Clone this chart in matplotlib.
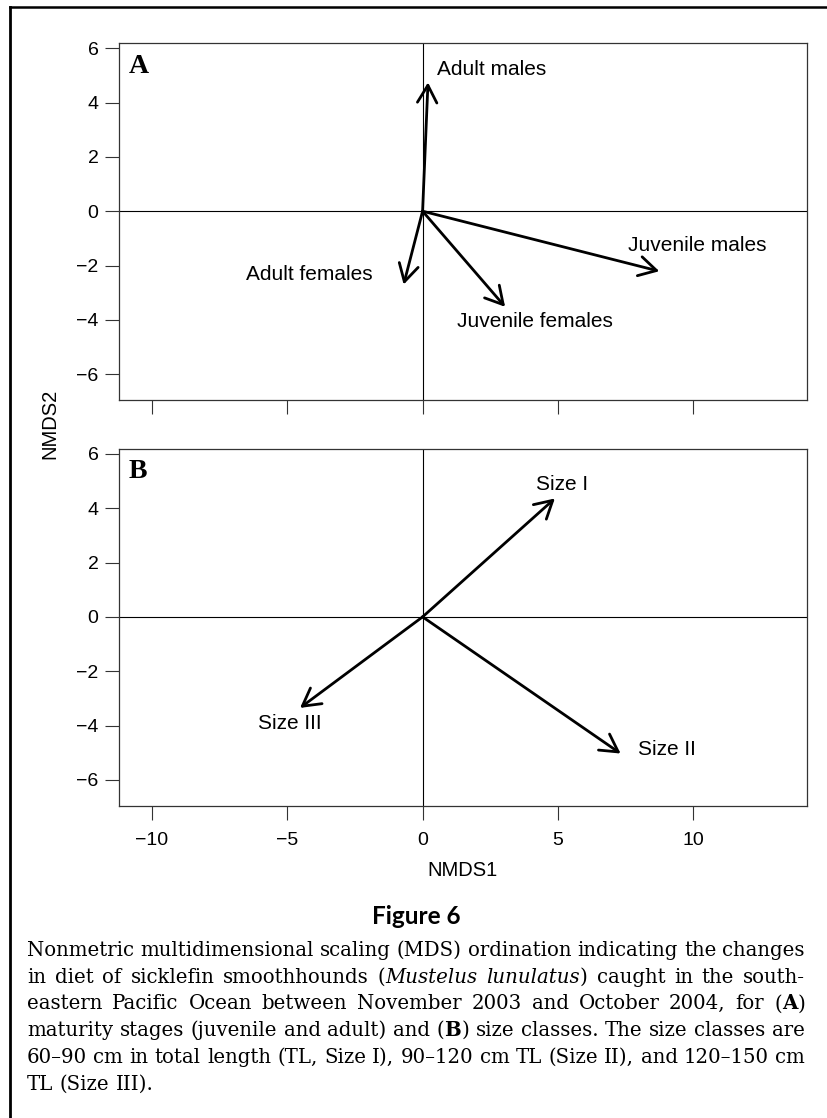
import matplotlib
matplotlib.use("Agg")
import matplotlib.pyplot as plt
from matplotlib.lines import Line2D
from matplotlib.font_manager import FontProperties

# Panel A: maturity stages (arrow tips in NMDS space)
stage_names = ["Adult males", "Juvenile males", "Juvenile females", "Adult females"]
stage_nmds1 = [0.2, 8.75, 3.05, -0.7]
stage_nmds2 = [4.74, -2.21, -3.52, -2.70]

# Panel B: size classes
size_names = ["Size I", "Size II", "Size III"]
size_nmds1 = [4.89, 7.32, -4.53]
size_nmds2 = [4.36, -5.03, -3.35]

x_ticks = [-10, -5, 0, 5, 10]
y_ticks = [-6, -4, -2, 0, 2, 4, 6]

caption_title = "Figure 6"
# _..._ italic, *...* bold
caption_lines = [
    "Nonmetric multidimensional scaling (MDS) ordination indicating the changes",
    "in diet of sicklefin smoothhounds (_Mustelus lunulatus_) caught in the south-",
    "eastern Pacific Ocean between November 2003 and October 2004, for (*A*)",
    "maturity stages (juvenile and adult) and (*B*) size classes. The size classes are",
    "60\u201390 cm in total length (TL, Size I), 90\u2013120 cm TL (Size II), and 120\u2013150 cm",
    "TL (Size III).",
]

W, H = 827, 1118
plt.rcParams["font.family"] = ["Liberation Sans", "DejaVu Sans"]

fig = plt.figure(figsize=(W / 100, H / 100), dpi=100)
fig.patch.set_facecolor("white")


def px_axes(left, top, right, bottom):
    return fig.add_axes([left / W, 1 - bottom / H, (right - left) / W, (bottom - top) / H])


def setup_axes(ax, show_xlabels):
    ax.set_xlim(-11.21, 14.19)
    ax.set_ylim(-6.95, 6.18)
    ax.set_xticks(x_ticks)
    ax.set_yticks(y_ticks)
    for sp in ax.spines.values():
        sp.set_linewidth(0.9)
        sp.set_color("#333333")
    ax.tick_params(axis="both", direction="out", length=10, width=0.8,
                   color="#333333", labelsize=14)
    ax.tick_params(axis="y", pad=5)
    ax.tick_params(axis="x", pad=9, labelbottom=show_xlabels)
    ax.axhline(0, color="black", lw=0.8, zorder=1)
    ax.axvline(0, color="black", lw=0.8, zorder=1)


def draw_arrows(ax, xs, ys):
    for x, y in zip(xs, ys):
        ax.annotate("", xy=(x, y), xytext=(0, 0),
                    arrowprops=dict(arrowstyle="->,head_length=1.25,head_width=0.7",
                                    lw=2.0, color="black", shrinkA=0, shrinkB=0,
                                    mutation_scale=10),
                    zorder=3)


axA = px_axes(119.3, 43.3, 806.5, 400)
axB = px_axes(119.3, 449, 806.5, 805.7)
setup_axes(axA, False)
setup_axes(axB, True)

draw_arrows(axA, stage_nmds1, stage_nmds2)
draw_arrows(axB, size_nmds1, size_nmds2)

# arrow labels
stage_label_pos = [(0.54, 5.2, "left"), (10.17, -1.27, "center"),
                   (4.16, -4.05, "center"), (-4.17, -2.33, "center")]
for name, (lx, ly, ha) in zip(stage_names, stage_label_pos):
    axA.text(lx, ly, name, ha=ha, va="center", fontsize=15)

size_label_pos = [(5.17, 4.89), (9.02, -4.89), (-4.9, -3.93)]
for name, (lx, ly) in zip(size_names, size_label_pos):
    axB.text(lx, ly, name, ha="center", va="center", fontsize=15)

for ax, letter in [(axA, "A"), (axB, "B")]:
    ax.text(0.014, 0.918, letter, transform=ax.transAxes, ha="left", va="baseline",
            fontfamily="Liberation Serif", fontweight="bold", fontsize=20)

fig.text(462.5 / W, 1 - 870 / H, "NMDS1", ha="center", va="center", fontsize=14.5)
fig.text(50 / W, 1 - 424 / H, "NMDS2", ha="center", va="center", rotation=90, fontsize=14.5)

# frame (cropped box: only top and left edges visible)
fig.add_artist(Line2D([9.5 / W, 1], [1 - 7 / H, 1 - 7 / H], transform=fig.transFigure,
                      color="black", lw=1.8))
fig.add_artist(Line2D([9.5 / W, 9.5 / W], [0, 1 - 7 / H], transform=fig.transFigure,
                      color="black", lw=2.0))

fig.text(416 / W, 1 - 916 / H, caption_title, ha="center", va="center",
         fontfamily="Lato", fontweight="bold", fontsize=17.5)

# justified caption
renderer = fig.canvas.get_renderer()


def make_props(size):
    return {
        "normal": FontProperties(family="DejaVu Serif", size=size),
        "italic": FontProperties(family="DejaVu Serif", style="italic", size=size),
        "bold": FontProperties(family="DejaVu Serif", weight="bold", size=size),
    }


def split_words(line, style):
    words = []
    for raw in line.split(" "):
        segs, buf = [], ""
        for ch in raw:
            if ch in "_*":
                if buf:
                    segs.append((buf, style))
                buf = ""
                mark = "italic" if ch == "_" else "bold"
                style = "normal" if style == mark else mark
            else:
                buf += ch
        if buf:
            segs.append((buf, style))
        words.append(segs)
    return words, style


def text_width(s, prop):
    w, _, _ = renderer.get_text_width_height_descent(s, prop, ismath=False)
    return w


parsed = []
style = "normal"
for line in caption_lines:
    words, style = split_words(line, style)
    parsed.append(words)

cap_left, cap_right = 27, 805
avail = cap_right - cap_left

# largest size whose lines fit with near-normal spacing
cap_size = 15.0
while cap_size > 10:
    props = make_props(cap_size)
    sp = text_width("x x", props["normal"]) - text_width("xx", props["normal"])
    ok = True
    for words in parsed[:-1]:
        wsum = sum(text_width(s, props[st]) for w in words for s, st in w)
        if wsum + 0.85 * sp * (len(words) - 1) > avail:
            ok = False
            break
    if ok:
        break
    cap_size -= 0.1

cap_props = make_props(cap_size)
space_w = text_width("x x", cap_props["normal"]) - text_width("xx", cap_props["normal"])
base0, line_step = 956, 26.7
for i, words in enumerate(parsed):
    widths = [sum(text_width(s, cap_props[st]) for s, st in w) for w in words]
    if i < len(parsed) - 1 and len(words) > 1:
        gap = (avail - sum(widths)) / (len(words) - 1)
    else:
        gap = space_w
    x = cap_left
    y = base0 + i * line_step
    for w, ww in zip(words, widths):
        xs = x
        for s, st in w:
            fig.text(xs / W, 1 - y / H, s, fontproperties=cap_props[st],
                     ha="left", va="baseline")
            xs += text_width(s, cap_props[st])
        x += ww + gap

fig.savefig("out.png", dpi=100, facecolor="white")
